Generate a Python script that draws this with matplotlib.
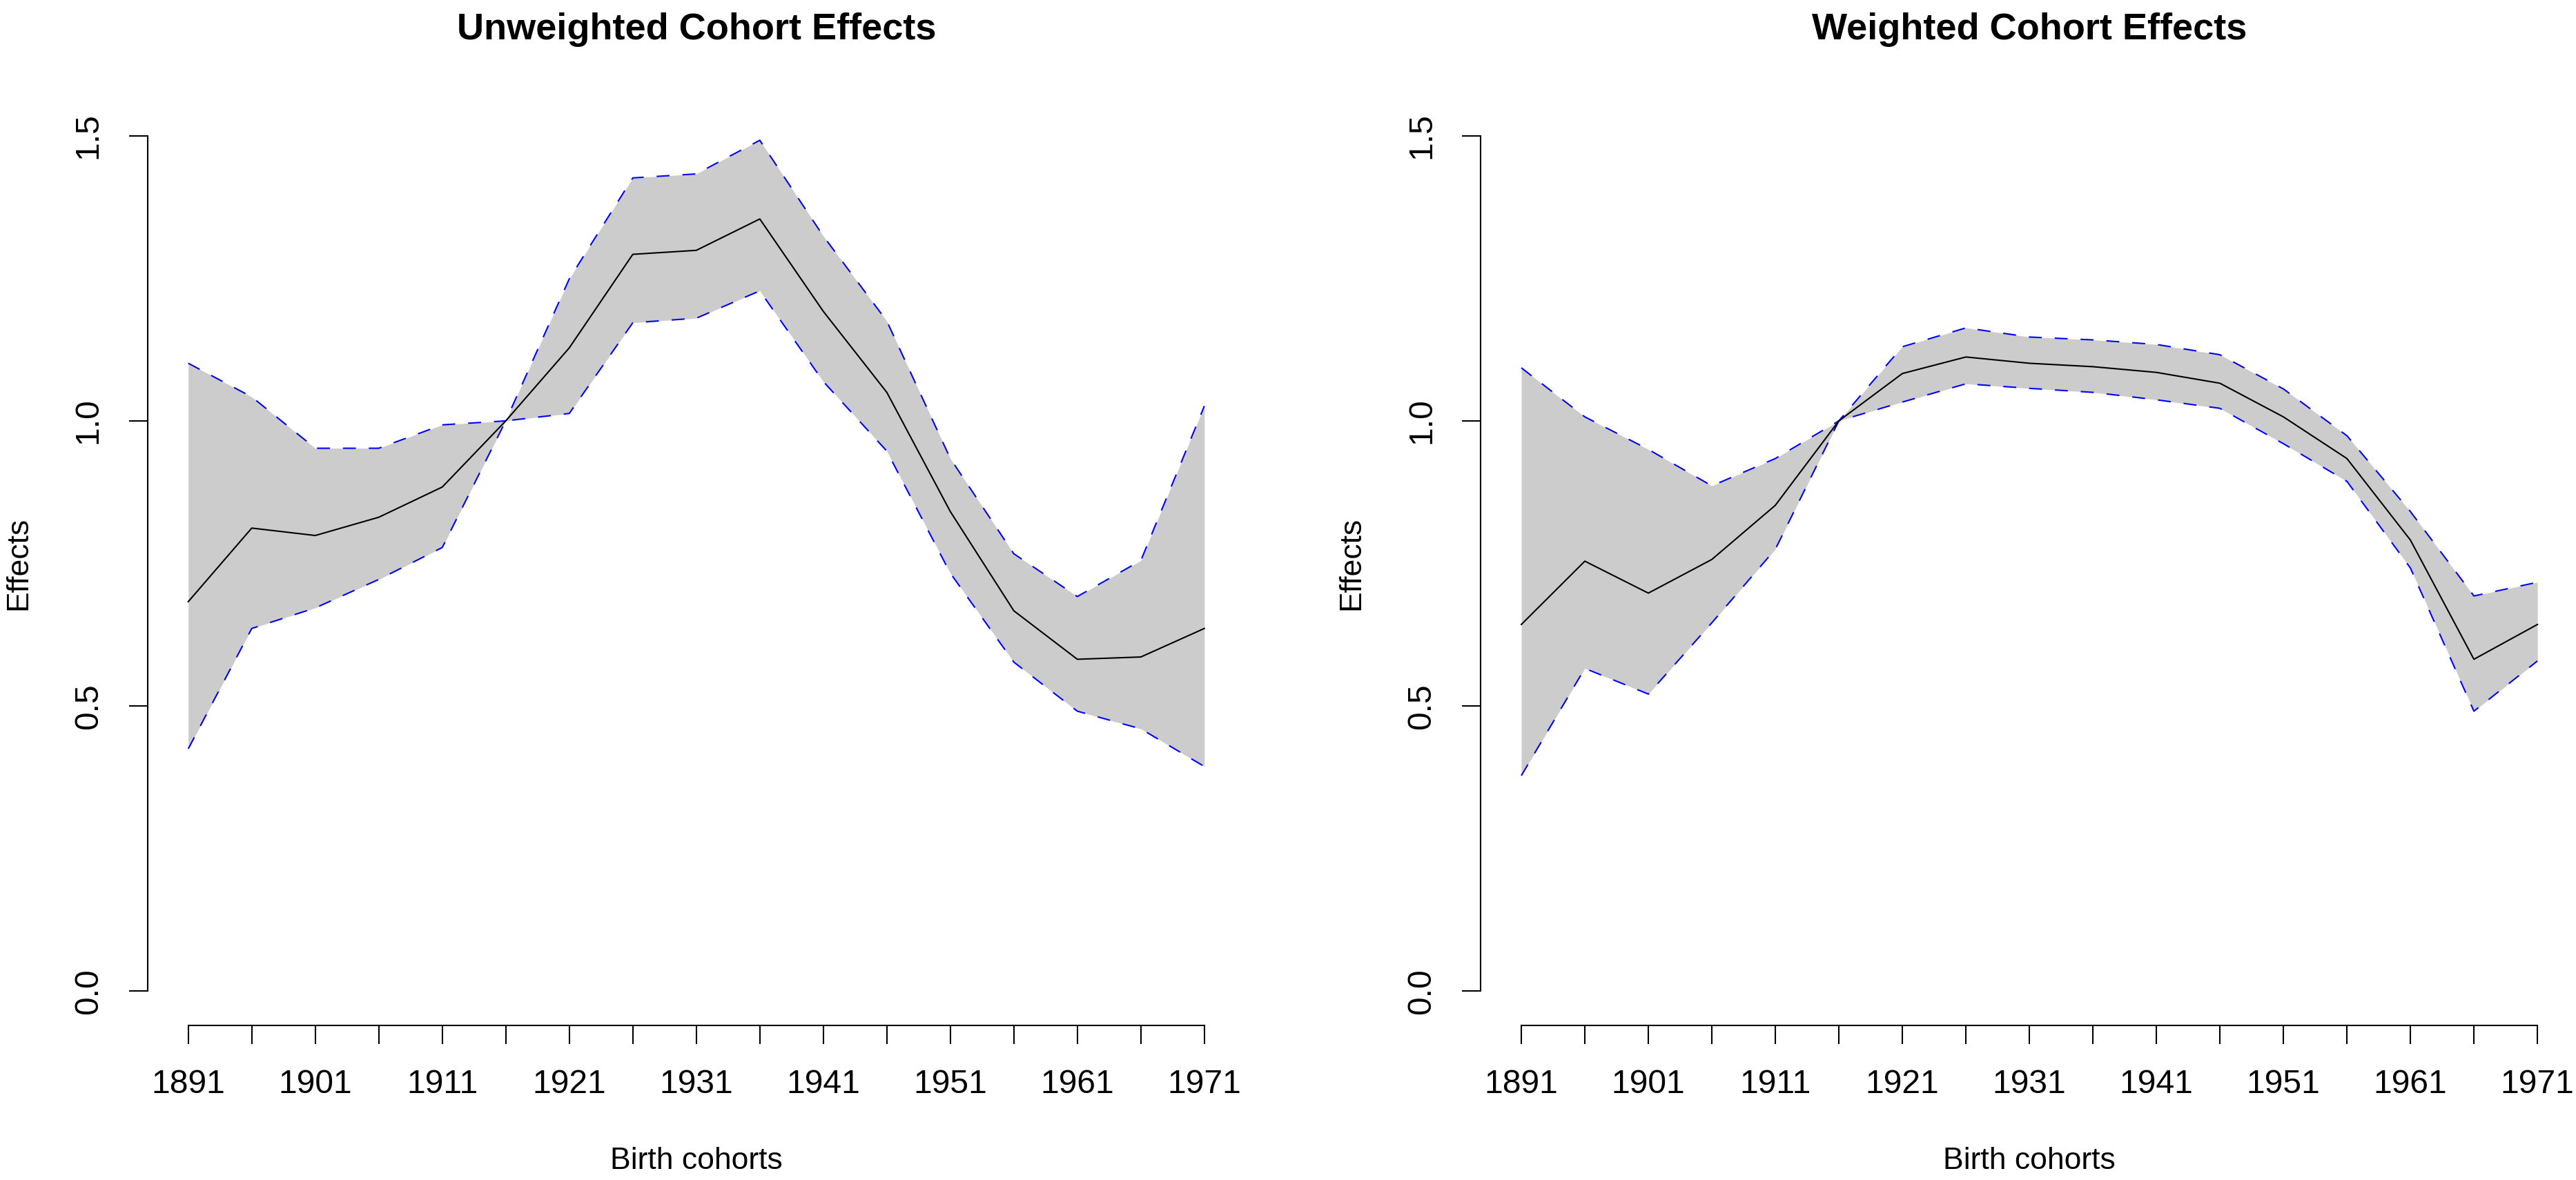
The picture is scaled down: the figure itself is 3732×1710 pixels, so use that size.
"""Unweighted vs weighted cohort effects with confidence bands (R base-graphics look)."""

import matplotlib.pyplot as plt

plt.rcParams["font.family"] = ["Liberation Sans", "DejaVu Sans"]

years = [1891, 1896, 1901, 1906, 1911, 1916, 1921, 1926, 1931,
         1936, 1941, 1946, 1951, 1956, 1961, 1966, 1971]
year_labels = ["1891", "", "1901", "", "1911", "", "1921", "", "1931",
               "", "1941", "", "1951", "", "1961", "", "1971"]
effect_ticks = [0.0, 0.5, 1.0, 1.5]
effect_tick_labels = ["0.0", "0.5", "1.0", "1.5"]

unweighted_effect = [0.683, 0.812, 0.799, 0.831, 0.884, 1.000, 1.128, 1.292, 1.299,
                     1.354, 1.192, 1.050, 0.841, 0.667, 0.582, 0.586, 0.636]
unweighted_upper = [1.101, 1.042, 0.952, 0.952, 0.993, 1.000, 1.249, 1.426, 1.433,
                    1.492, 1.324, 1.175, 0.934, 0.767, 0.692, 0.755, 1.026]
unweighted_lower = [0.425, 0.636, 0.672, 0.722, 0.778, 1.000, 1.013, 1.172, 1.180,
                    1.228, 1.069, 0.947, 0.733, 0.577, 0.491, 0.460, 0.394]

weighted_effect = [0.643, 0.754, 0.698, 0.757, 0.852, 1.000, 1.083, 1.112, 1.101,
                   1.095, 1.085, 1.066, 1.007, 0.934, 0.791, 0.582, 0.643]
weighted_upper = [1.093, 1.007, 0.950, 0.886, 0.934, 1.000, 1.130, 1.163, 1.147,
                  1.142, 1.134, 1.116, 1.056, 0.974, 0.841, 0.693, 0.717]
weighted_lower = [0.378, 0.566, 0.521, 0.646, 0.775, 1.000, 1.033, 1.065, 1.057,
                  1.050, 1.037, 1.022, 0.960, 0.894, 0.742, 0.491, 0.579]

TICK_SIZE = 17.3
LABEL_SIZE = 16
TITLE_SIZE = 19.5
LINE_W = 0.75


def r_range(lo, hi):
    """R's default 4% axis extension."""
    pad = 0.04 * (hi - lo)
    return lo - pad, hi + pad


def draw_panel(ax, title, effect, lower, upper):
    ax.fill_between(years, lower, upper, color="#cccccc", linewidth=0)
    ax.plot(years, upper, color="blue", linewidth=LINE_W, dashes=(9, 9))
    ax.plot(years, lower, color="blue", linewidth=LINE_W, dashes=(9, 9))
    ax.plot(years, effect, color="black", linewidth=LINE_W)

    ax.set_xlim(*r_range(years[0], years[-1]))
    ax.set_ylim(*r_range(effect_ticks[0], effect_ticks[-1]))

    for side in ("top", "right"):
        ax.spines[side].set_visible(False)
    ax.spines["left"].set_bounds(effect_ticks[0], effect_ticks[-1])
    ax.spines["bottom"].set_bounds(years[0], years[-1])
    for side in ("left", "bottom"):
        ax.spines[side].set_linewidth(LINE_W)

    ax.set_xticks(years, year_labels)
    ax.set_yticks(effect_ticks, effect_tick_labels)
    ax.tick_params(length=9.7, width=LINE_W, pad=13, labelsize=TICK_SIZE)
    ax.tick_params(axis="y", labelrotation=90)
    for label in ax.get_yticklabels():
        label.set_verticalalignment("center")

    ax.set_title(title, fontsize=TITLE_SIZE, fontweight="bold", y=1.0672, pad=0)
    ax.set_xlabel("Birth cohorts", fontsize=LABEL_SIZE, va="baseline")
    ax.xaxis.set_label_coords(0.5, -0.1553)
    ax.set_ylabel("Effects", fontsize=LABEL_SIZE, va="center")
    ax.yaxis.set_label_coords(-0.1175, 0.5)


fig = plt.figure(figsize=(18.66, 8.55), dpi=200)
ax_left = fig.add_axes([0.0573, 0.131, 0.426, 0.783])
ax_right = fig.add_axes([0.5748, 0.131, 0.426, 0.783])

draw_panel(ax_left, "Unweighted Cohort Effects",
           unweighted_effect, unweighted_lower, unweighted_upper)
draw_panel(ax_right, "Weighted Cohort Effects",
           weighted_effect, weighted_lower, weighted_upper)

fig.savefig("out.png", dpi=200)
plt.close(fig)
